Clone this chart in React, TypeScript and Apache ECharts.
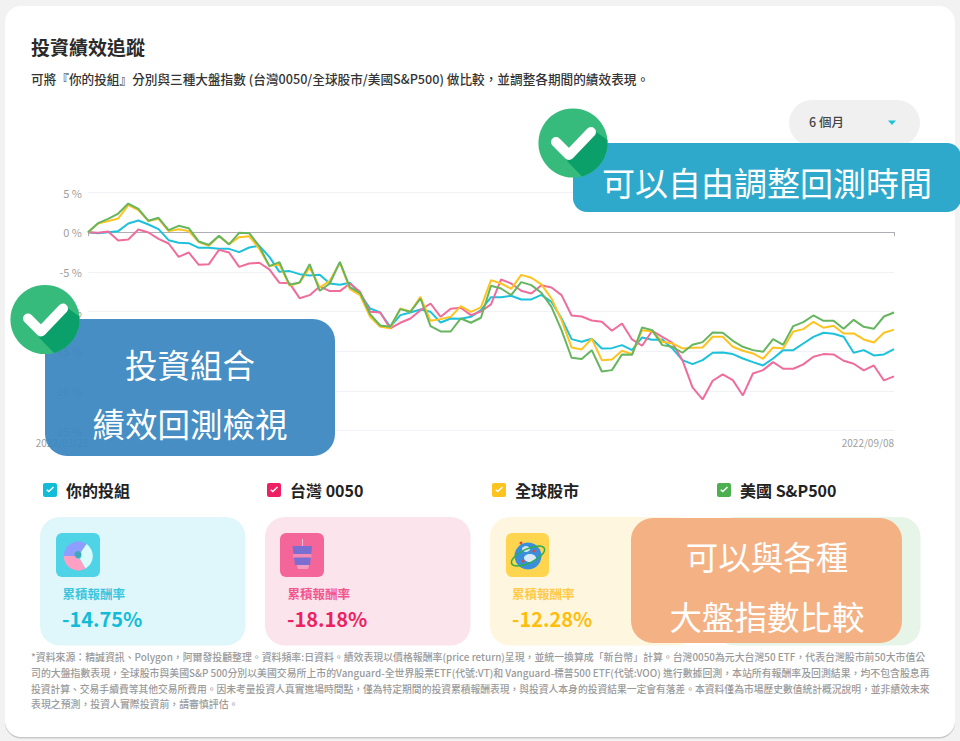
import React, { useEffect, useRef } from "react";
import * as echarts from "echarts";

const dates = [
  "2022/03/23","2022/03/25","2022/03/28","2022/03/30","2022/04/01","2022/04/04","2022/04/06","2022/04/08","2022/04/11","2022/04/13","2022/04/14","2022/04/15","2022/04/18","2022/04/20","2022/04/22","2022/04/25","2022/04/27","2022/04/29",
  "2022/05/02","2022/05/04","2022/05/06","2022/05/09","2022/05/11","2022/05/12","2022/05/13","2022/05/16","2022/05/18","2022/05/20","2022/05/23","2022/05/25","2022/05/27","2022/05/30",
  "2022/06/01","2022/06/03","2022/06/06","2022/06/08","2022/06/09","2022/06/10","2022/06/13","2022/06/15","2022/06/17","2022/06/20","2022/06/22","2022/06/24","2022/06/27","2022/06/29",
  "2022/07/01","2022/07/04","2022/07/06","2022/07/07","2022/07/08","2022/07/11","2022/07/13","2022/07/15","2022/07/18","2022/07/20","2022/07/22","2022/07/25","2022/07/27","2022/07/28","2022/07/29",
  "2022/08/01","2022/08/03","2022/08/05","2022/08/08","2022/08/10","2022/08/12","2022/08/15","2022/08/17","2022/08/18","2022/08/19","2022/08/22","2022/08/24","2022/08/26","2022/08/29","2022/08/31",
  "2022/09/01","2022/09/02","2022/09/05","2022/09/07","2022/09/08",
];

const portfolio = [0,-0.13,0,0.13,1.09,1.47,0.97,0.38,-1.01,-1.34,-1.39,-1.97,-1.97,-2.10,-2.10,-2.52,-1.93,-1.72,-3.11,-5.00,-4.91,-5.29,-5.46,-5.38,-6.47,-6.64,-6.38,-7.81,-9.62,-10.12,-11.93,-10.46,-10.12,-9.74,-10.04,-11.38,-10.88,-10.92,-10.67,-9.83,
  -8.19,-8.19,-8.02,-8.48,-8.48,-7.90,-8.78,-10.88,-13.48,-13.82,-13.44,-14.66,-14.62,-14.24,-14.87,-13.27,-13.57,-13.52,-14.66,-16.13,-16.63,-16.13,-15.20,-15.16,-15.37,-15.92,-16.38,-16.80,-15.92,-14.87,-14.87,-14.03,-13.19,-12.68,-12.81,-13.19,-15.20,-14.87,-15.54,-15.41,-14.75];

const taiwan0050 = [0,-0.08,0.08,-1.05,-0.92,0.34,-0.04,-0.84,-1.43,-3.11,-2.56,-4.12,-4.03,-2.23,-2.56,-4.37,-3.95,-3.86,-4.70,-6.38,-6.43,-8.32,-7.94,-6.85,-7.43,-7.43,-6.47,-7.52,-10.04,-10.12,-12.14,-11.42,-10.88,-9.83,-8.99,-10.67,-9.66,-9.53,-10.46,-10.00,
  -9.11,-5.96,-6.47,-7.39,-7.73,-6.68,-6.97,-7.94,-10.50,-10.63,-11.13,-11.30,-12.43,-11.51,-13.52,-14.32,-12.43,-13.19,-13.94,-16.13,-19.57,-21.08,-18.73,-17.93,-18.65,-20.58,-17.81,-17.39,-16.38,-17.22,-17.22,-16.67,-15.71,-15.37,-15.41,-16.21,-16.59,-17.43,-16.80,-18.69,-18.18];

const globalStocks = [0,1.09,1.39,1.72,3.40,2.77,1.39,1.68,0.13,0.38,0.13,-1.26,-1.72,-0.50,-1.51,-0.63,-0.50,-2.10,-4.28,-4.07,-6.72,-6.38,-4.45,-6.97,-6.13,-3.86,-7.18,-7.94,-10.67,-11.93,-12.10,-9.62,-10.04,-8.15,-11.17,-10.96,-10.67,-9.32,-10.04,-9.49,
  -6.05,-6.47,-7.14,-5.38,-5.75,-6.59,-8.36,-11.09,-14.53,-14.78,-13.44,-16.13,-16.04,-14.95,-15.37,-12.35,-12.52,-13.82,-14.03,-14.66,-14.57,-14.53,-13.19,-13.19,-14.45,-14.95,-15.29,-15.96,-14.53,-14.66,-12.52,-12.22,-11.30,-12.05,-11.80,-12.77,-12.77,-13.52,-13.90,-12.68,-12.28];

const usSp500 = [0,1.13,1.68,2.35,3.61,2.94,1.43,1.81,0.25,0.80,0.50,-1.18,-1.60,-0.46,-1.55,-0.08,-0.13,-1.76,-4.28,-3.78,-6.64,-6.34,-4.03,-7.39,-6.47,-3.74,-6.97,-7.64,-10.33,-11.76,-11.93,-9.70,-10.04,-8.36,-11.84,-12.52,-12.52,-10.88,-11.42,-10.79,
  -6.76,-7.10,-7.94,-6.30,-6.68,-7.64,-9.41,-12.35,-15.83,-16.00,-14.87,-17.56,-17.39,-15.41,-15.46,-12.01,-12.35,-14.24,-14.45,-15.20,-14.20,-13.86,-12.64,-12.68,-13.69,-14.45,-14.87,-15.08,-13.48,-14.20,-11.84,-11.34,-10.50,-11.17,-11.17,-12.18,-11.05,-11.93,-12.18,-10.63,-10.12];

const seriesNames = ["你的投組", "台灣 0050", "全球股市", "美國 S&P500"];
const cardLabel = "累積報酬率";
const cardValues = ["-14.75%", "-18.18%", "-12.28%"];

const footnotes = [
  "*資料來源：精誠資訊、Polygon，阿爾發投顧整理。資料頻率:日資料。績效表現以價格報酬率(price return)呈現，並統一換算成「新台幣」計算。台灣0050為元大台灣50 ETF，代表台灣股市前50大市值公",
  "司的大盤指數表現，全球股市與美國S&P 500分別以美國交易所上市的Vanguard-全世界股票ETF(代號:VT)和 Vanguard-標普500 ETF(代號:VOO) 進行數據回測，本站所有報酬率及回測結果，均不包含股息再",
  "投資計算、交易手續費等其他交易所費用。因未考量投資人真實進場時間點，僅為特定期間的投資累積報酬表現，與投資人本身的投資結果一定會有落差。本資料僅為市場歷史數值統計概況說明，並非績效未來",
  "表現之預測，投資人實際投資前，請審慎評估。",
];

const FONT = '"Noto Sans CJK TC", "Noto Sans", sans-serif';
const CYAN = "#1cc1dc";
const PINK = "#f06c9b";
const YELLOW = "#ffc31f";
const GREEN = "#66b55f";

const BOX_ICON =
  "path://M2 0H12A2 2 0 0 1 14 2V12A2 2 0 0 1 12 14H2A2 2 0 0 1 0 12V2A2 2 0 0 1 2 0ZM3.2 7.2L5.8 9.6L11 4.4L10 3.4L5.8 7.6L4.2 6.2Z";

echarts.graphic.registerShape(
  "badgeShade",
  echarts.graphic.extendPath(
    "M22 -12 L34.4 -3 A34.6 34.6 0 0 1 9 33.4 L-6 18 Z",
    {}
  ) as any
);

function text(x: number, y: number, t: string, size: number, fill: string, weight: any = 400, align = "left", z = 20) {
  return {
    type: "text",
    x,
    y,
    z,
    silent: true,
    style: { text: t, fontSize: size, fontFamily: FONT, fontWeight: weight, fill, align, verticalAlign: "middle" },
  };
}

function rect(x: number, y: number, w: number, h: number, r: number, fill: string, z = 10) {
  return { type: "rect", z, silent: true, shape: { x, y, width: w, height: h, r }, style: { fill } };
}

function badge(cx: number, cy: number) {
  return [
    { type: "circle", z: 30, silent: true, shape: { cx, cy, r: 34.6 }, style: { fill: "#36bb7c" } },
    { type: "badgeShade", z: 30, silent: true, x: cx, y: cy, style: { fill: "#0ba06a" } },
    {
      type: "polyline",
      z: 31,
      silent: true,
      shape: { points: [[cx - 17, cy - 1], [cx - 4, cy + 12], [cx + 18, cy - 11]] },
      style: { stroke: "#ffffff", lineWidth: 10, lineCap: "round", lineJoin: "round", fill: "none" },
    },
  ];
}

function sector(cx: number, cy: number, r0: number, r: number, a: number, b: number, fill: string) {
  return { type: "sector", z: 12, silent: true, shape: { cx, cy, r0, r, startAngle: a, endAngle: b }, style: { fill } };
}

const D = Math.PI / 180;

const elements: any[] = [
  rect(5, 7.5, 950, 731, 16, "#c9c9c9", -20),
  rect(5, 6, 950, 731, 16, "#ffffff", -19),
  text(31, 46, "投資績效追蹤", 19, "#2a2a2a", 700, "left", 5),
  text(31, 78, "可將『你的投組』分別與三種大盤指數 (台灣0050/全球股市/美國S&P500) 做比較，並調整各期間的績效表現。", 12.65, "#333333", 500, "left", 5),
  rect(789, 100, 131, 46, 23, "#f0f0f0", 5),
  text(809, 121, "6 個月", 12.5, "#444444", 500, "left", 6),
  { type: "polygon", z: 6, silent: true, shape: { points: [[888, 120.5], [896, 120.5], [892, 125]] }, style: { fill: CYAN } },

  rect(40, 517, 205.5, 128.5, 20, "#dff7fa"),
  rect(265, 517, 205.5, 128.5, 20, "#fbe4ec"),
  rect(490, 517, 205.5, 128.5, 20, "#fff6e0"),
  rect(715, 517, 205.5, 128.5, 20, "#e7f5e8"),

  rect(56, 533, 44, 44, 6, "#4fd3e6", 11),
  sector(78.3, 556, 3, 14.5, 180 * D, 305 * D, "#8f9dff"),
  sector(78.3, 556, 3, 14.5, 60 * D, 180 * D, "#ff9fc4"),
  sector(78.3, 556, 3, 14.5, -55 * D, 60 * D, "#d9fbfb"),
  { type: "circle", z: 13, silent: true, shape: { cx: 78, cy: 554.5, r: 3.5 }, style: { fill: "#3fa9b8" } },

  rect(280, 533, 44, 44, 6, "#f4659a", 11),
  rect(302, 539, 1, 8, 0, "#e9bcd6", 12),
  { type: "polygon", z: 12, silent: true, shape: { points: [[296, 563], [310, 563], [308, 569], [298, 569]] }, style: { fill: "#f29ac0" } },
  { type: "polygon", z: 13, silent: true, shape: { points: [[292.5, 546], [312, 546], [310, 565], [295, 565]] }, style: { fill: "#7a6fd0" } },
  rect(293, 554, 18.5, 3.5, 0, "#f58ab5", 14),

  rect(506, 533, 43, 44, 6, "#ffd54f", 11),
  { type: "circle", z: 12, silent: true, shape: { cx: 528, cy: 556, r: 13.5 }, style: { fill: "#3a8fdc" } },
  { type: "ellipse", z: 13, silent: true, shape: { cx: 530, cy: 558, rx: 6, ry: 4 }, style: { fill: "#d9e9f7" } },
  { type: "ellipse", z: 13, silent: true, shape: { cx: 526, cy: 549, rx: 4, ry: 3 }, style: { fill: "#cfe3f5" } },
  { type: "ellipse", z: 13, silent: true, x: 528, y: 556, rotation: 25 * D, shape: { cx: 0, cy: 0, rx: 18, ry: 7 }, style: { fill: "none", stroke: "#2fae4a", lineWidth: 1.5 } },
  { type: "circle", z: 14, silent: true, shape: { cx: 521, cy: 543, r: 1.5 }, style: { fill: "#e0483c" } },
  { type: "circle", z: 14, silent: true, shape: { cx: 534, cy: 551, r: 1.5 }, style: { fill: "#e0483c" } },
  { type: "circle", z: 14, silent: true, shape: { cx: 523, cy: 561, r: 1.5 }, style: { fill: "#e0483c" } },

  text(62.5, 593, cardLabel, 12.5, "#3cc6de", 700),
  text(287.5, 593, cardLabel, 12.5, "#f2568f", 700),
  text(512, 593, cardLabel, 12.5, "#ffcb45", 700),
  text(62, 618, cardValues[0], 20, "#12bcd8", 700),
  text(287, 618, cardValues[1], 20, "#ee1f62", 700),
  text(512, 618, cardValues[2], 20, "#ffbe0b", 700),

  ...footnotes.map((f, i) => text(31, [657, 673, 688.5, 704][i], f, [9.9, 9.9, 9.77, 9.9][i], "#9a9a9a", 500)),

  // callouts
  rect(573, 143, 388, 69, 14, "#2fa9cb", 25),
  text(767, 181.5, "可以自由調整回測時間", 33, "#ffffff", 400, "center", 26),
  rect(45, 319, 290, 137, 22, "rgba(60,136,193,0.95)", 25),
  text(190, 363, "投資組合", 32.5, "#ffffff", 400, "center", 26),
  text(190, 422, "績效回測檢視", 32.5, "#ffffff", 400, "center", 26),
  rect(631, 518, 271, 125, 22, "#f4b183", 25),
  text(767, 555, "可以與各種", 32.5, "#ffffff", 400, "center", 26),
  text(767, 615, "大盤指數比較", 32.5, "#ffffff", 400, "center", 26),
  ...badge(45, 319.5),
  ...badge(573, 143),
];

const colors = [CYAN, PINK, YELLOW, GREEN];
const legendLefts = [43, 267, 492, 717];
const values = [portfolio, taiwan0050, globalStocks, usSp500];

export default function App() {
  const ref = useRef<HTMLDivElement>(null);
  useEffect(() => {
    document.body.style.margin = "0";
    const chart = echarts.init(ref.current!, undefined, { renderer: "svg" });
    chart.setOption({
      animation: false,
      backgroundColor: "#f2f2f2",
      color: colors,
      grid: { left: 88, right: 66, top: 192.5, height: 238, containLabel: false },
      legend: seriesNames.map((name, i) => ({
        data: [{ name, icon: BOX_ICON, itemStyle: { color: ["#12bcd8", "#ee1f62", "#ffc31f", "#4caf50"][i] } }],
        left: legendLefts[i],
        top: 482,
        padding: 0,
        itemWidth: 14,
        itemHeight: 14,
        selectedMode: false,
        z: 20,
        textStyle: { fontFamily: FONT, fontSize: 16, fontWeight: 700, color: "#222222", padding: [0, 0, 0, 4] },
      })),
      xAxis: [
        {
          type: "category",
          data: dates,
          boundaryGap: false,
          position: "bottom",
          axisLine: { show: false, onZero: false },
          axisTick: { show: false },
          splitLine: { show: false },
          axisLabel: { interval: 79, align: "right", color: "#a0a0a0", fontSize: 10, fontFamily: FONT, margin: 7, showMinLabel: true, showMaxLabel: true },
        },
        {
          type: "category",
          data: dates,
          boundaryGap: false,
          position: "bottom",
          axisLine: { show: true, onZero: true, lineStyle: { color: "#aeaeb4", width: 1 } },
          axisTick: { show: true, interval: 79, length: 4, lineStyle: { color: "#aeaeb4" } },
          axisLabel: { show: false },
          splitLine: { show: false },
        },
      ],
      yAxis: {
        type: "value",
        min: -25,
        max: 5,
        interval: 5,
        axisLine: { show: false },
        axisTick: { show: false },
        axisLabel: { formatter: "{value} %", color: "#a0a0a0", fontSize: 11, fontFamily: FONT, margin: 6, padding: [0, 0, 4, 0] },
        splitLine: { lineStyle: { color: "#f1f2f8", width: 1 } },
      },
      series: seriesNames.map((name, i) => ({
        name,
        type: "line",
        data: values[i],
        showSymbol: false,
        symbol: "none",
        smooth: false,
        lineStyle: { width: 2, color: colors[i] },
        itemStyle: { color: colors[i] },
      })),
      graphic: { elements },
    });
    return () => chart.dispose();
  }, []);
  return <div ref={ref} style={{ width: 960, height: 741, position: "absolute", left: 0, top: 0 }} />;
}
